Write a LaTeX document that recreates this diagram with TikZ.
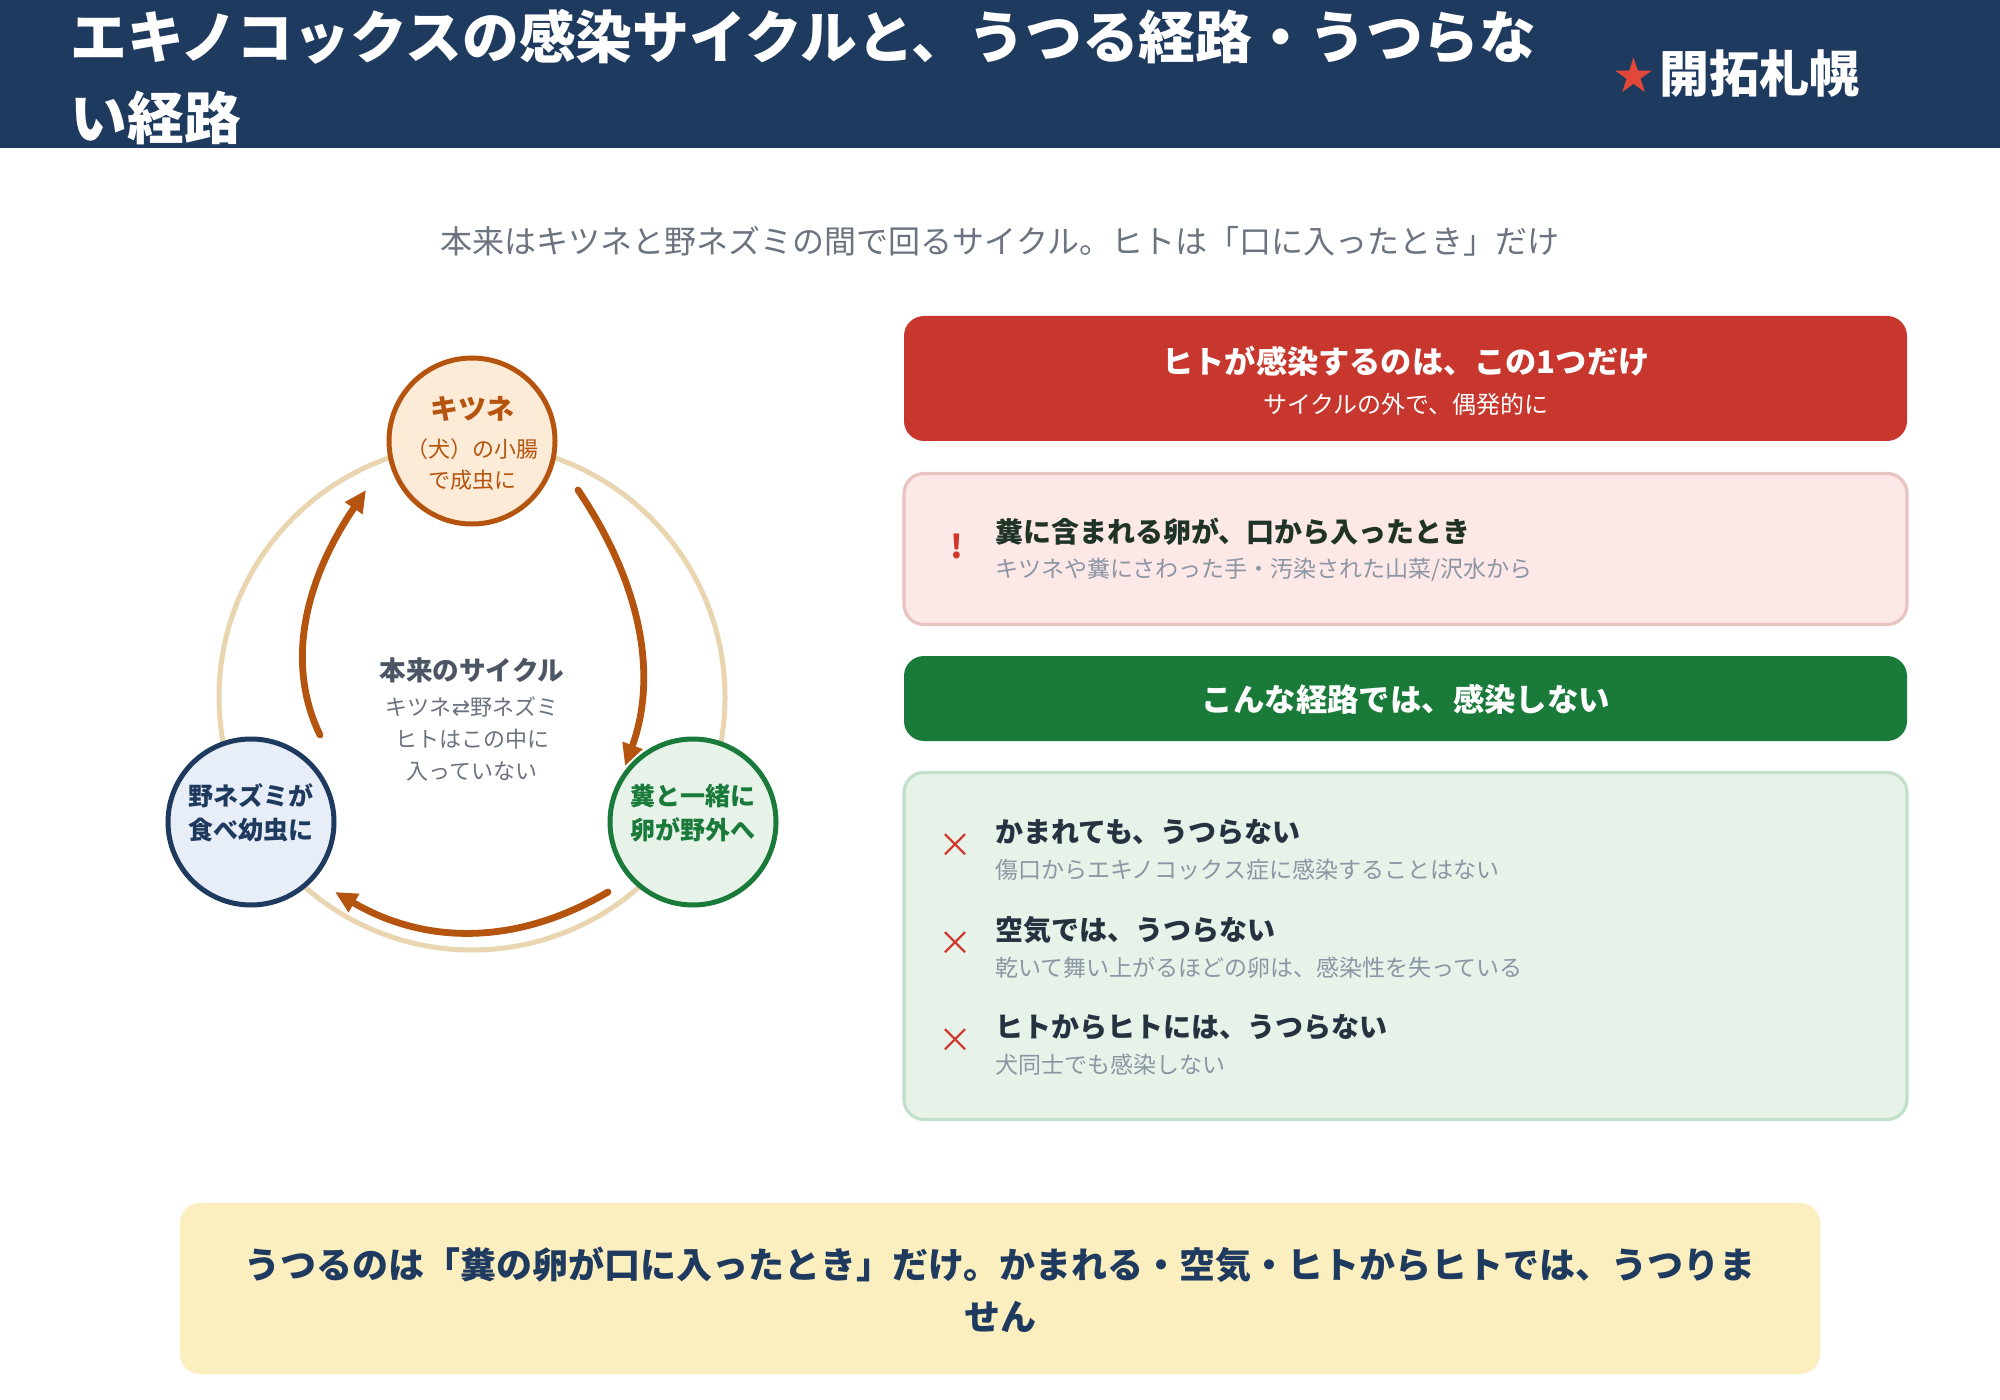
\documentclass[tikz,border=0pt]{standalone}
\usepackage{fontspec}
\setmainfont{Noto Sans CJK JP}
\newfontfamily\dejavu{DejaVu Sans}
\usetikzlibrary{arrows.meta,calc}
\definecolor{navy}{HTML}{1F3A5F}
\definecolor{starred}{HTML}{E2483A}
\definecolor{subgray}{HTML}{6B7280}
\definecolor{ringc}{HTML}{E9D5AF}
\definecolor{orng}{HTML}{B5540F}
\definecolor{foxfill}{HTML}{FCEBD7}
\definecolor{mousefill}{HTML}{E8EEF7}
\definecolor{fecesfill}{HTML}{E7F3E9}
\definecolor{grn}{HTML}{1A7A3A}
\definecolor{redbox}{HTML}{C8372D}
\definecolor{pinkfill}{HTML}{FCE8E7}
\definecolor{pinkline}{HTML}{E8C3C1}
\definecolor{gboxfill}{HTML}{E7F2E9}
\definecolor{gboxline}{HTML}{C2DFCA}
\definecolor{xred}{HTML}{D0352B}
\definecolor{yellowbox}{HTML}{FBEFBF}
\definecolor{darkgray}{HTML}{4B5563}
\definecolor{ptitle}{HTML}{1F3326}
\definecolor{gtitle}{HTML}{273241}
\definecolor{lightgray}{HTML}{8C95A3}
\newcommand\fsz[2]{\fontsize{#1}{#2}\selectfont}
\begin{document}
\begin{tikzpicture}[x=0.5pt,y=-0.5pt,
  stage/.style={circle, line width=2.5pt, minimum size=83pt, inner sep=0pt},
  stagetext/.style={align=center, inner sep=0pt, font=\bfseries\fsz{12.5pt}{17pt}},
  cyc/.style={draw=orng, line width=3.4pt, line cap=round, -{Triangle[length=11pt,width=10pt]}},
  panel/.style={rounded corners=10pt, minimum width=501.5pt, inner sep=0pt},
  ptitlestyle/.style={anchor=west, inner sep=0pt, font=\bfseries\fsz{14pt}{18pt}},
  psubstyle/.style={anchor=west, inner sep=0pt, text=lightgray, font=\fsz{11.5pt}{15pt}},
  xmark/.style={inner sep=0pt, text=xred, font=\fsz{17pt}{20pt}}
]
\useasboundingbox (0,0) rectangle (2000,1400);
\fill[white] (0,0) rectangle (2000,1400);

% header
\node[fill=navy, minimum width=1000pt, minimum height=74pt, inner sep=0pt, anchor=north west] (header) at (0,0) {};
\node[anchor=west, align=left, inner sep=0pt, text=white, font=\bfseries\fsz{28.4pt}{40.5pt}] (title) at (70,77)
  {エキノコックスの感染サイクルと、うつる経路・うつらな\\い経路};
\node[anchor=west, inner sep=0pt, text=white, font=\bfseries\fsz{25pt}{30pt}] (brand) at (1612,74)
  {{\dejavu\fsz{24pt}{24pt}\color{starred}★}\hspace{2pt}開拓札幌};

% subtitle
\node[text=subgray, font=\fsz{16pt}{20pt}, inner sep=0pt] (subtitle) at (1000,241)
  {本来はキツネと野ネズミの間で回るサイクル。ヒトは「口に入ったとき」だけ};

% cycle
\node[circle, draw=ringc, line width=2.5pt, minimum size=253pt, inner sep=0pt] (ring) at (472,697) {};
\node[stage, draw=orng, fill=foxfill] (fox) at (472,441) {};
\node[stage, draw=navy, fill=mousefill] (mouse) at (251,822) {};
\node[stage, draw=grn, fill=fecesfill] (feces) at (693,822) {};

\node[align=center, inner sep=0pt, text=orng, font=\fsz{11pt}{15.5pt}] (foxtxt) at ($(fox)+(0,2)$)
  {{\bfseries\fsz{14pt}{19pt}キツネ}\\[3.5pt]（犬）の小腸\\で成虫に};
\node[stagetext, text=navy] (mousetxt) at ($(mouse)+(0,-9)$) {野ネズミが\\食べ幼虫に};
\node[stagetext, text=grn] (fecestxt) at ($(feces)+(0,-9)$) {糞と一緒に\\卵が野外へ};

\node[align=center, inner sep=0pt, text=subgray, font=\fsz{11pt}{16pt}] (center) at (472,719)
  {{\bfseries\color{darkgray}\fsz{13.3pt}{17pt}本来のサイクル}\\[1.5pt]キツネ{\dejavu ⇄}野ネズミ\\ヒトはこの中に\\入っていない};

% arrows
\coordinate (a1s) at ($(fox)+(106,49)$);
\coordinate (a1c) at (674,632);
\coordinate (a1e) at ($(feces)+(-68,-56)$);
\draw[cyc] (a1s) .. controls ($(a1s)!0.667!(a1c)$) and ($(a1e)!0.667!(a1c)$) .. (a1e);

\coordinate (a2s) at ($(feces)+(-85,70)$);
\coordinate (a2c) at (472,972);
\coordinate (a2e) at ($(mouse)+(84,70)$);
\draw[cyc] (a2s) .. controls ($(a2s)!0.667!(a2c)$) and ($(a2e)!0.667!(a2c)$) .. (a2e);

\coordinate (a3s) at ($(mouse)+(69,-87)$);
\coordinate (a3c) at (270,632);
\coordinate (a3e) at ($(fox)+(-106,49)$);
\draw[cyc] (a3s) .. controls ($(a3s)!0.667!(a3c)$) and ($(a3e)!0.667!(a3c)$) .. (a3e);

% red box
\node[panel, fill=redbox, minimum height=62.5pt] (redb) at (1405.5,378.5) {};
\node[inner sep=0pt, text=white, font=\bfseries\fsz{15.6pt}{19pt}] (redt) at (1406,361) {ヒトが感染するのは、この1つだけ};
\node[inner sep=0pt, text=white, font=\fsz{12pt}{15pt}] (reds) at (1406,404) {サイクルの外で、偶発的に};

% pink box
\node[panel, fill=pinkfill, draw=pinkline, line width=1.6pt, minimum height=75.5pt] (pinkb) at (1405.5,549) {};
\node[inner sep=0pt, text=xred, font=\bfseries\fsz{16pt}{20pt}] (bang) at (957,546) {!};
\node[ptitlestyle, text=ptitle] (pinkt) at (995,532) {糞に含まれる卵が、口から入ったとき};
\node[psubstyle] (pinks) at (995,570) {キツネや糞にさわった手・汚染された山菜/沢水から};

% green header
\node[panel, fill=grn, minimum height=42.5pt] (greenh) at (1405.5,698.5) {};
\node[inner sep=0pt, text=white, font=\bfseries\fsz{15.7pt}{19pt}] (greent) at (1406,699) {こんな経路では、感染しない};

% green box
\node[panel, fill=gboxfill, draw=gboxline, line width=1.6pt, minimum height=173.5pt] (greenb) at (1405.5,946) {};
\node[xmark] (x1) at (955,846) {×};
\node[ptitlestyle, text=gtitle] (t1) at (995,832) {かまれても、うつらない};
\node[psubstyle] (s1) at (995,870) {傷口からエキノコックス症に感染することはない};
\node[xmark] (x2) at (955,944) {×};
\node[ptitlestyle, text=gtitle] (t2) at (995,930) {空気では、うつらない};
\node[psubstyle] (s2) at (995,968) {乾いて舞い上がるほどの卵は、感染性を失っている};
\node[xmark] (x3) at (955,1041) {×};
\node[ptitlestyle, text=gtitle] (t3) at (995,1027) {ヒトからヒトには、うつらない};
\node[psubstyle] (s3) at (995,1065) {犬同士でも感染しない};

% bottom box
\node[panel, fill=yellowbox, minimum width=820pt, minimum height=85.5pt] (yellowb) at (1000,1288.5) {};
\node[align=center, inner sep=0pt, text=navy, font=\bfseries\fsz{18pt}{26pt}] (yellowt) at (1000,1290)
  {うつるのは「糞の卵が口に入ったとき」だけ。かまれる・空気・ヒトからヒトでは、うつりま\\せん};
\end{tikzpicture}
\end{document}
